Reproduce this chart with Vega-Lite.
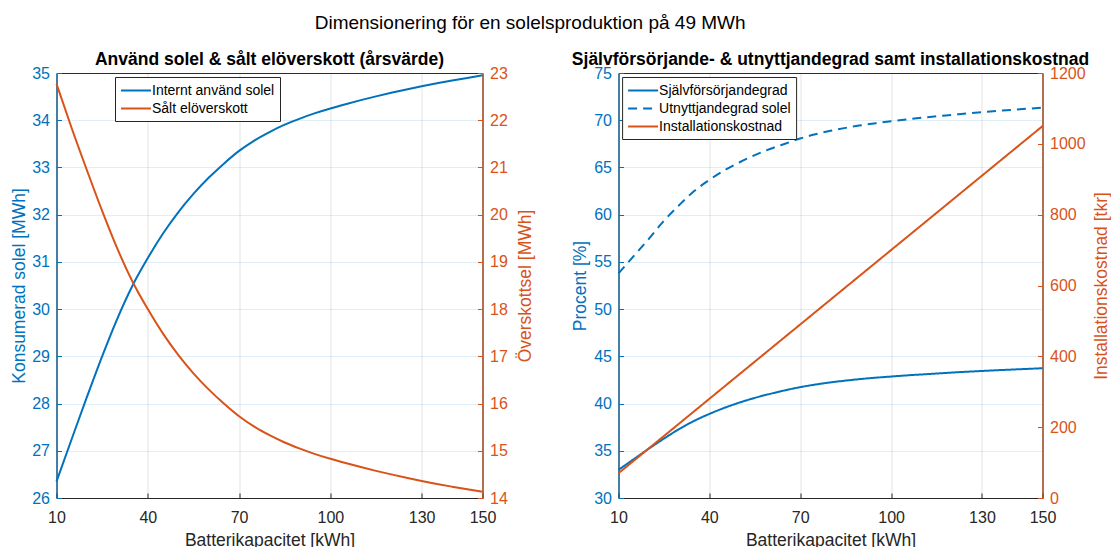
{
  "$schema": "https://vega.github.io/schema/vega-lite/v6.json",
  "background": "white",
  "padding": {"left": 9.5, "top": 14, "right": 0, "bottom": 0},
  "title": {"text": "Dimensionering för en solelsproduktion på 49 MWh", "fontSize": 19, "fontWeight": "normal", "color": "#000000", "anchor": "middle", "offset": 17, "dx": -30},
  "data": {"values": [
    {"k": 10, "kons": 26.35, "over": 22.77, "sjalv": 32.98, "utn": 53.78, "kost": 70},
    {"k": 15, "kons": 27.25, "over": 21.83, "sjalv": 34.10, "utn": 55.61, "kost": 105},
    {"k": 20, "kons": 28.14, "over": 20.94, "sjalv": 35.22, "utn": 57.43, "kost": 140},
    {"k": 25, "kons": 29.00, "over": 20.08, "sjalv": 36.29, "utn": 59.35, "kost": 175},
    {"k": 30, "kons": 29.80, "over": 19.28, "sjalv": 37.29, "utn": 61.00, "kost": 210},
    {"k": 35, "kons": 30.50, "over": 18.58, "sjalv": 38.17, "utn": 62.50, "kost": 245},
    {"k": 40, "kons": 31.08, "over": 18.00, "sjalv": 38.90, "utn": 63.68, "kost": 280},
    {"k": 45, "kons": 31.60, "over": 17.48, "sjalv": 39.55, "utn": 64.70, "kost": 315},
    {"k": 50, "kons": 32.05, "over": 17.03, "sjalv": 40.11, "utn": 65.55, "kost": 350},
    {"k": 55, "kons": 32.44, "over": 16.64, "sjalv": 40.60, "utn": 66.30, "kost": 385},
    {"k": 60, "kons": 32.78, "over": 16.30, "sjalv": 41.02, "utn": 66.95, "kost": 420},
    {"k": 65, "kons": 33.08, "over": 16.00, "sjalv": 41.40, "utn": 67.51, "kost": 455},
    {"k": 70, "kons": 33.35, "over": 15.73, "sjalv": 41.74, "utn": 68.06, "kost": 490},
    {"k": 75, "kons": 33.57, "over": 15.51, "sjalv": 42.01, "utn": 68.51, "kost": 525},
    {"k": 80, "kons": 33.75, "over": 15.33, "sjalv": 42.24, "utn": 68.88, "kost": 560},
    {"k": 85, "kons": 33.905, "over": 15.175, "sjalv": 42.43, "utn": 69.19, "kost": 595},
    {"k": 90, "kons": 34.035, "over": 15.045, "sjalv": 42.60, "utn": 69.46, "kost": 630},
    {"k": 95, "kons": 34.15, "over": 14.93, "sjalv": 42.74, "utn": 69.69, "kost": 665},
    {"k": 100, "kons": 34.25, "over": 14.83, "sjalv": 42.86, "utn": 69.90, "kost": 700},
    {"k": 105, "kons": 34.34, "over": 14.74, "sjalv": 42.98, "utn": 70.08, "kost": 735},
    {"k": 110, "kons": 34.425, "over": 14.655, "sjalv": 43.08, "utn": 70.26, "kost": 770},
    {"k": 115, "kons": 34.505, "over": 14.575, "sjalv": 43.18, "utn": 70.42, "kost": 805},
    {"k": 120, "kons": 34.58, "over": 14.50, "sjalv": 43.28, "utn": 70.57, "kost": 840},
    {"k": 125, "kons": 34.652, "over": 14.428, "sjalv": 43.37, "utn": 70.72, "kost": 875},
    {"k": 130, "kons": 34.72, "over": 14.36, "sjalv": 43.45, "utn": 70.86, "kost": 910},
    {"k": 135, "kons": 34.782, "over": 14.298, "sjalv": 43.53, "utn": 70.98, "kost": 945},
    {"k": 140, "kons": 34.84, "over": 14.24, "sjalv": 43.60, "utn": 71.10, "kost": 980},
    {"k": 145, "kons": 34.896, "over": 14.184, "sjalv": 43.67, "utn": 71.22, "kost": 1015},
    {"k": 150, "kons": 34.95, "over": 14.13, "sjalv": 43.74, "utn": 71.33, "kost": 1050}
  ]},
  "spacing": 136,
  "bounds": "flush",
  "resolve": {"scale": {"color": "independent", "strokeDash": "independent"}},
  "hconcat": [
    {
      "width": 426,
      "height": 425,
      "title": {"text": "Använd solel & sålt elöverskott (årsvärde)", "fontSize": 17.5, "fontWeight": "bold", "color": "#000000", "offset": -3},
      "encoding": {
        "x": {"field": "k", "type": "quantitative", "scale": {"domain": [10, 150], "nice": false, "zero": false},
          "axis": {"values": [10, 40, 70, 100, 130, 150], "format": "d", "title": "Batterikapacitet [kWh]", "labelColor": "#262626", "titleColor": "#262626", "domainColor": "#262626", "tickColor": "#262626", "gridColor": "#262626", "gridOpacity": 0.13, "labelFontSize": 16, "titleFontSize": 17.5, "titleFontWeight": "normal", "tickSize": -5, "labelPadding": 16, "titlePadding": 6, "labelFlush": false, "labelOverlap": false}}
      },
      "layer": [
        {
          "mark": {"type": "line", "strokeWidth": 2, "interpolate": "monotone"},
          "encoding": {
            "y": {"field": "kons", "type": "quantitative", "scale": {"domain": [26, 35], "nice": false, "zero": false},
              "axis": {"orient": "left", "values": [26, 27, 28, 29, 30, 31, 32, 33, 34, 35], "title": "Konsumerad solel [MWh]", "labelColor": "#0072BD", "titleColor": "#0072BD", "domainColor": "#0072BD", "tickColor": "#0072BD", "gridColor": "#0072BD", "gridOpacity": 0.12, "labelFontSize": 16, "titleFontSize": 17.5, "titleFontWeight": "normal", "tickSize": -5, "labelPadding": 12, "titlePadding": 3}},
            "color": {"datum": "Internt använd solel", "type": "nominal",
              "scale": {"domain": ["Internt använd solel", "Sålt elöverskott"], "range": ["#0072BD", "#D95319"]},
              "legend": {"title": null, "orient": "none", "legendX": 58.5, "legendY": 4, "labelFontSize": 14, "labelColor": "#000000", "symbolType": "M-1,0H3", "symbolSize": 225, "symbolStrokeWidth": 2, "labelOffset": 15, "padding": 5, "rowPadding": 2, "strokeColor": "#262626", "fillColor": "white", "cornerRadius": 0}}
          }
        },
        {
          "mark": {"type": "line", "strokeWidth": 2, "interpolate": "monotone"},
          "encoding": {
            "y": {"field": "over", "type": "quantitative", "scale": {"domain": [14, 23], "nice": false, "zero": false},
              "axis": {"orient": "right", "grid": false, "values": [14, 15, 16, 17, 18, 19, 20, 21, 22, 23], "title": "Överskottsel [MWh]", "labelColor": "#D95319", "titleColor": "#D95319", "domainColor": "#D95319", "tickColor": "#D95319", "labelFontSize": 16, "titleFontSize": 17.5, "titleFontWeight": "normal", "tickSize": -5, "labelPadding": 12, "titlePadding": 9, "titleAngle": 270, "titleBaseline": "top"}},
            "color": {"datum": "Sålt elöverskott", "type": "nominal"}
          }
        }
      ],
      "resolve": {"scale": {"y": "independent"}}
    },
    {
      "width": 424,
      "height": 425,
      "title": {"text": "Självförsörjande- & utnyttjandegrad samt installationskostnad", "fontSize": 17.5, "fontWeight": "bold", "color": "#000000", "offset": -3},
      "encoding": {
        "x": {"field": "k", "type": "quantitative", "scale": {"domain": [10, 150], "nice": false, "zero": false},
          "axis": {"values": [10, 40, 70, 100, 130, 150], "format": "d", "title": "Batterikapacitet [kWh]", "labelColor": "#262626", "titleColor": "#262626", "domainColor": "#262626", "tickColor": "#262626", "gridColor": "#262626", "gridOpacity": 0.13, "labelFontSize": 16, "titleFontSize": 17.5, "titleFontWeight": "normal", "tickSize": -5, "labelPadding": 16, "titlePadding": 6, "labelFlush": false, "labelOverlap": false}}
      },
      "layer": [
        {
          "encoding": {
            "y": {"type": "quantitative", "scale": {"domain": [30, 75], "nice": false, "zero": false},
              "axis": {"orient": "left", "values": [30, 35, 40, 45, 50, 55, 60, 65, 70, 75], "title": "Procent [%]", "labelColor": "#0072BD", "titleColor": "#0072BD", "domainColor": "#0072BD", "tickColor": "#0072BD", "gridColor": "#0072BD", "gridOpacity": 0.12, "labelFontSize": 16, "titleFontSize": 17.5, "titleFontWeight": "normal", "tickSize": -5, "labelPadding": 12, "titlePadding": 4}}
          },
          "layer": [
            {
              "mark": {"type": "line", "strokeWidth": 2, "interpolate": "monotone"},
              "encoding": {
                "y": {"field": "sjalv"},
                "color": {"datum": "Självförsörjandegrad", "type": "nominal",
                  "scale": {"domain": ["Självförsörjandegrad", "Utnyttjandegrad solel", "Installationskostnad"], "range": ["#0072BD", "#0072BD", "#D95319"]},
                  "legend": {"title": null, "orient": "none", "legendX": 3.6, "legendY": 4, "labelFontSize": 14, "labelColor": "#000000", "symbolType": "M-1,0H3", "symbolSize": 225, "symbolStrokeWidth": 2, "labelOffset": 15, "padding": 5, "rowPadding": 2, "strokeColor": "#262626", "fillColor": "white", "cornerRadius": 0}},
                "strokeDash": {"datum": "Självförsörjandegrad", "type": "nominal",
                  "scale": {"domain": ["Självförsörjandegrad", "Utnyttjandegrad solel", "Installationskostnad"], "range": [[1, 0], [9, 6], [1, 0]]},
                  "legend": {"title": null, "orient": "none", "legendX": 3.6, "legendY": 4, "labelFontSize": 14, "labelColor": "#000000", "symbolType": "M-1,0H3", "symbolSize": 225, "symbolStrokeWidth": 2, "labelOffset": 15, "padding": 5, "rowPadding": 2, "strokeColor": "#262626", "fillColor": "white", "cornerRadius": 0}}
              }
            },
            {
              "mark": {"type": "line", "strokeWidth": 2, "interpolate": "monotone"},
              "encoding": {
                "y": {"field": "utn"},
                "color": {"datum": "Utnyttjandegrad solel", "type": "nominal"},
                "strokeDash": {"datum": "Utnyttjandegrad solel", "type": "nominal"}
              }
            }
          ]
        },
        {
          "mark": {"type": "line", "strokeWidth": 2, "interpolate": "monotone"},
          "encoding": {
            "y": {"field": "kost", "type": "quantitative", "scale": {"domain": [0, 1200], "nice": false, "zero": false},
              "axis": {"orient": "right", "grid": false, "values": [0, 200, 400, 600, 800, 1000, 1200], "format": "d", "title": "Installationskostnad [tkr]", "labelColor": "#D95319", "titleColor": "#D95319", "domainColor": "#D95319", "tickColor": "#D95319", "labelFontSize": 16, "titleFontSize": 17.5, "titleFontWeight": "normal", "tickSize": -5, "labelPadding": 12, "titlePadding": 7, "titleAngle": 270, "titleBaseline": "top"}},
            "color": {"datum": "Installationskostnad", "type": "nominal"},
            "strokeDash": {"datum": "Installationskostnad", "type": "nominal"}
          }
        }
      ],
      "resolve": {"scale": {"y": "independent"}}
    }
  ],
  "config": {
    "font": "Liberation Sans",
    "view": {"stroke": "#262626", "strokeWidth": 1},
    "axis": {"domainWidth": 1, "tickWidth": 1, "gridWidth": 1}
  }
}
